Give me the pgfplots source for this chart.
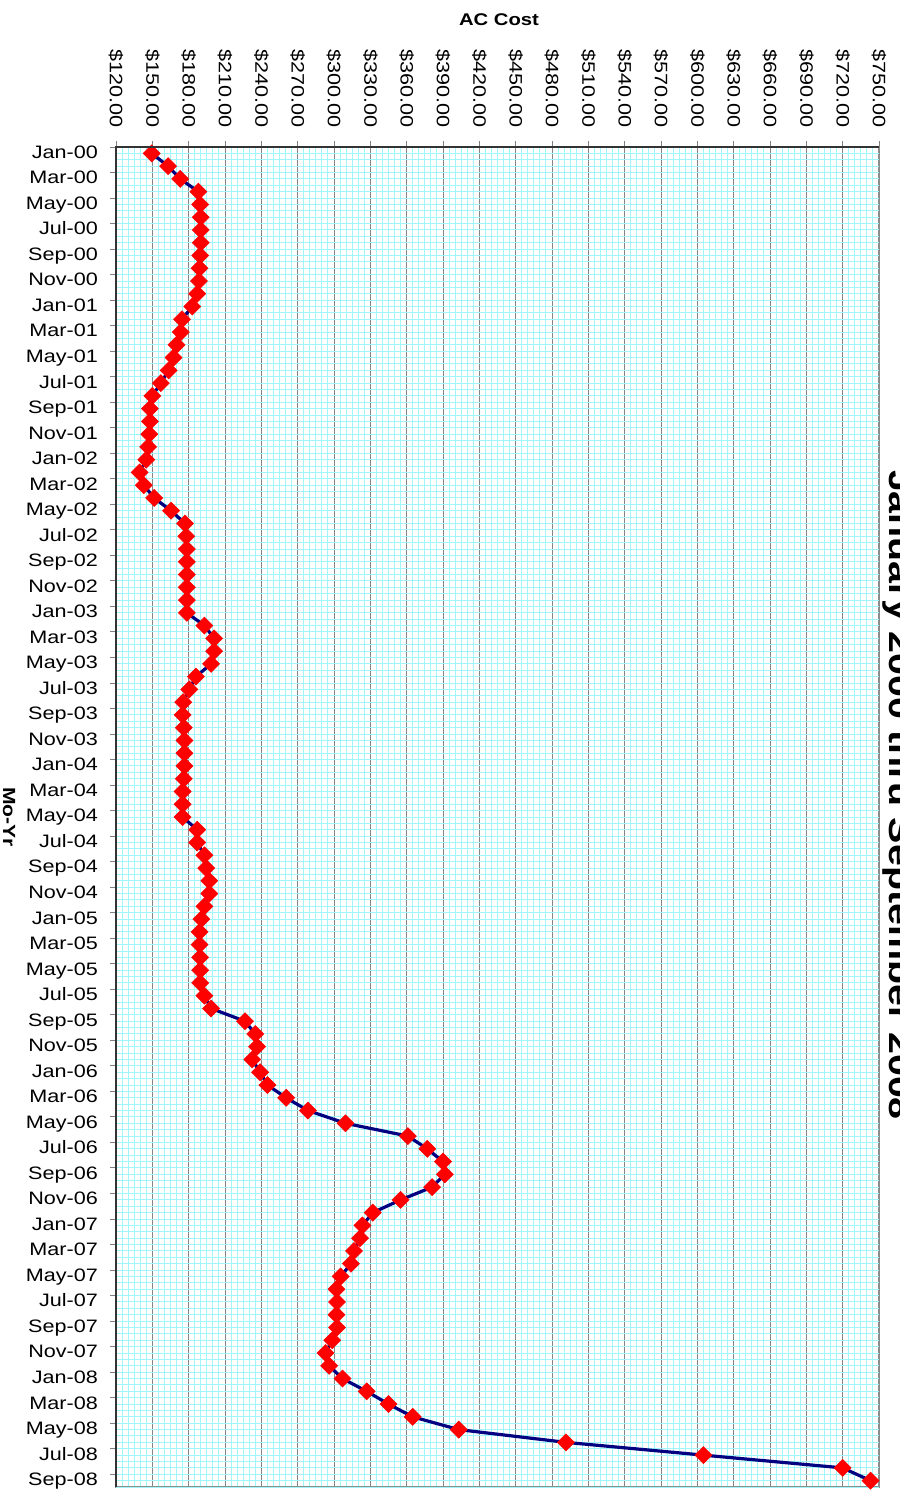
\documentclass[border=0pt]{standalone}
\usepackage{fontspec}
\setmainfont{Liberation Sans}[FakeStretch=1.2]
\usepackage{pgfplots}
\usepackage{pgfplotstable}
\pgfplotsset{compat=1.18}
\definecolor{gridcyan}{RGB}{160,246,250}
\definecolor{navyline}{RGB}{0,0,128}

\pgfplotstableread{
idx cost
0 149.5
1 163
2 173
3 188
4 189.5
5 190
6 190
7 190
8 189.5
9 189
10 188.5
11 187
12 183
13 174.5
14 173.5
15 170
16 167.5
17 163.5
18 157
19 150
20 148
21 148
22 147.5
23 146.5
24 145
25 139.5
26 143
27 151.5
28 165.5
29 177
30 178
31 178.5
32 178.5
33 178.5
34 178.5
35 178.5
36 178.5
37 193
38 201
39 201
40 198.5
41 186
42 180.5
43 175.5
44 175
45 176
46 176.5
47 176.5
48 176.5
49 176
50 175
51 175
52 175
53 187
54 187
55 193
56 194.5
57 197
58 197
59 193
60 190.5
61 189
62 189
63 189.5
64 189.5
65 189.5
66 193
67 198.5
68 226.5
69 235
70 236.5
71 232.5
72 239
73 245
74 260.5
75 278.5
76 309.5
77 361
78 377
79 390
80 391.5
81 381
82 355
83 332
84 323.5
85 321.5
86 316.5
87 314
88 305.5
89 302
90 302.5
91 302
92 302.5
93 298.5
94 293
95 296
96 307
97 327
98 345
99 365
100 403
101 491.5
102 605
103 720
104 743
}\datatable

\begin{document}
\begin{tikzpicture}
\begin{axis}[
  at={(58pt,-73.5pt)}, anchor=north west,
  scale only axis, width=381.5pt, height=670pt,
  xmin=120, xmax=750, ymin=-0.5, ymax=104.5,
  y dir=reverse,
  xtick pos=right, xticklabel pos=right,
  ytick pos=left, yticklabel pos=left,
  xtick={120,150,...,750},
  xticklabels={\$120.00,\$150.00,\$180.00,\$210.00,\$240.00,\$270.00,\$300.00,\$330.00,\$360.00,\$390.00,\$420.00,\$450.00,\$480.00,\$510.00,\$540.00,\$570.00,\$600.00,\$630.00,\$660.00,\$690.00,\$720.00,\$750.00},
  minor x tick num=5,
  ytick={-0.5,1.5,...,103.5},
  yticklabels={Jan-00,Mar-00,May-00,Jul-00,Sep-00,Nov-00,
    Jan-01,Mar-01,May-01,Jul-01,Sep-01,Nov-01,
    Jan-02,Mar-02,May-02,Jul-02,Sep-02,Nov-02,
    Jan-03,Mar-03,May-03,Jul-03,Sep-03,Nov-03,
    Jan-04,Mar-04,May-04,Jul-04,Sep-04,Nov-04,
    Jan-05,Mar-05,May-05,Jul-05,Sep-05,Nov-05,
    Jan-06,Mar-06,May-06,Jul-06,Sep-06,Nov-06,
    Jan-07,Mar-07,May-07,Jul-07,Sep-07,Nov-07,
    Jan-08,Mar-08,May-08,Jul-08,Sep-08},
  extra y ticks={-0.5,0,...,104.5},
  extra y tick labels={},
  extra y tick style={grid=major, major grid style={draw=gridcyan, line width=0.5pt}, major tick length=0pt},
  xmajorgrids, xminorgrids,
  major grid style={draw=black!48, line width=0.5pt},
  minor grid style={draw=gridcyan, line width=0.5pt},
  tick align=outside,
  major tick length=3pt, minor tick length=0pt,
  tick style={line width=0.5pt},
  axis line style={black!45, line width=0.6pt},
  ticklabel style={font=\fontsize{9}{10}\selectfont},
  xticklabel style={yshift=6.5pt, rotate=-90, anchor=east, inner sep=0pt},
  yticklabel style={anchor=base east, inner sep=0pt, xshift=-5.85pt, yshift=-5.65pt},
  /pgf/number format/assume math mode=true,
  clip=false,
]
\addplot[navyline, line width=1.6pt, mark=square*, mark size=3pt,
  mark options={solid, draw=red, fill=red, rotate=45, line width=0.3pt}]
  table[x=cost, y=idx]{\datatable};
\end{axis}
\draw[black!80, line width=0.7pt] (58pt,-743.5pt) -- (58pt,-73.5pt) -- (439.5pt,-73.5pt);
\node[font=\bfseries\fontsize{8.45}{10}\selectfont] at (249.5pt,-9.75pt) {AC Cost};
\node[rotate=-90, font=\bfseries\fontsize{8.8}{10}\selectfont] at (4.5pt,-408.5pt) {Mo-Yr};
\node[rotate=-90, anchor=base, inner sep=0pt, font=\bfseries\fontsize{16.4}{18}\selectfont] at (444.5pt,-397.5pt) {January 2000 thru September 2008};
\pgfresetboundingbox
\path[use as bounding box] (0,0) rectangle (449.5pt,-745.5pt);
\end{tikzpicture}
\end{document}
